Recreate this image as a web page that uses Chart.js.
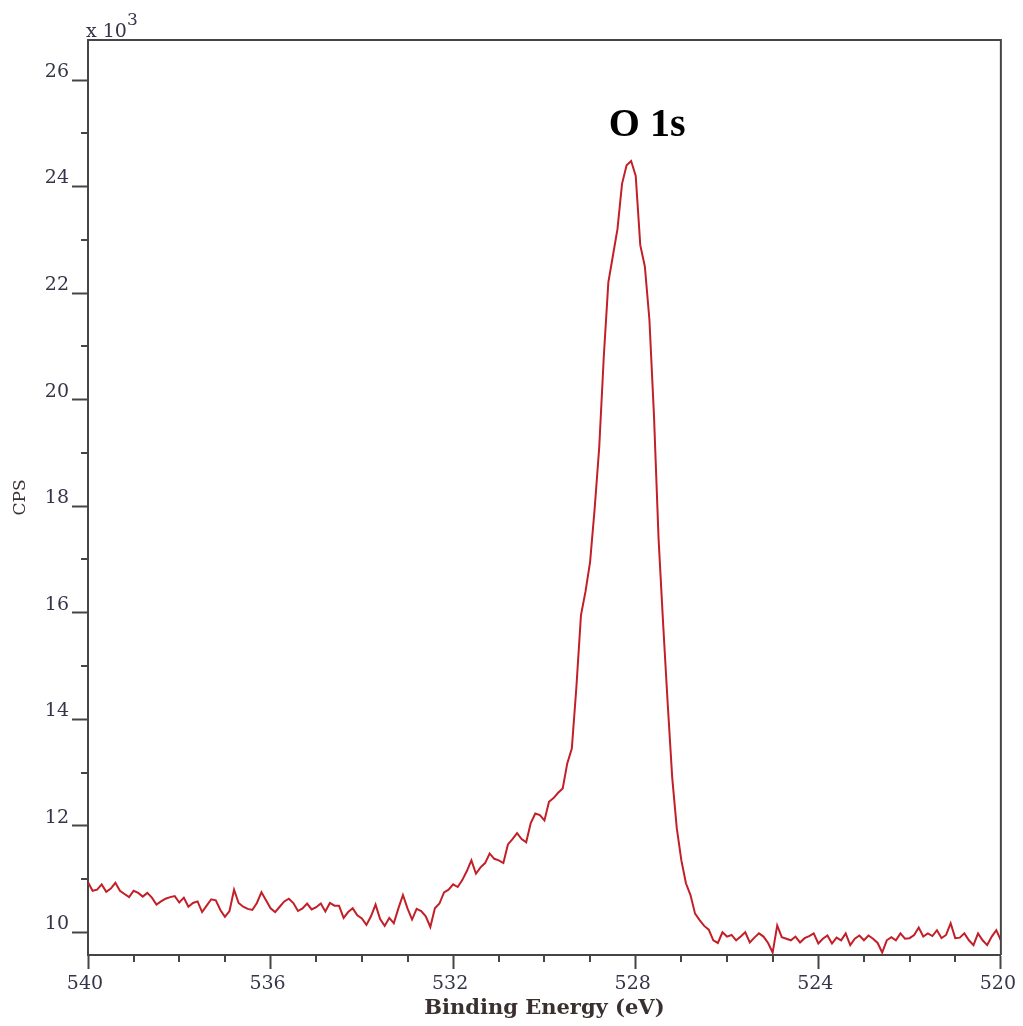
<!DOCTYPE html>
<html>
<head>
<meta charset="utf-8">
<script src="https://cdn.jsdelivr.net/npm/chart.js@4.4.1/dist/chart.umd.min.js"></script>
<style>
  html, body { margin: 0; padding: 0; background: #ffffff; }
  #wrap { width: 1023px; height: 1026px; }
</style>
</head>
<body>
<div id="wrap"><canvas id="c" width="1023" height="1026"></canvas></div>
<script>
// ---- Data (CPS in units of 10^3), sampled every 0.1 eV from 540 eV down to 520 eV ----
const energyStart = 540;
const energyStep = 0.1;
const cps = [
  10.94, 10.78, 10.80, 10.90, 10.76, 10.82, 10.93, 10.78, 10.72, 10.66,
  10.78, 10.74, 10.67, 10.74, 10.65, 10.52, 10.58, 10.63, 10.66, 10.68,
  10.56, 10.65, 10.48, 10.55, 10.58, 10.38, 10.50, 10.62, 10.60, 10.42,
  10.29, 10.40, 10.80, 10.55, 10.48, 10.44, 10.42, 10.55, 10.75, 10.60,
  10.45, 10.38, 10.48, 10.58, 10.63, 10.55, 10.40, 10.45, 10.54, 10.43,
  10.47, 10.54, 10.39, 10.55, 10.50, 10.50, 10.27, 10.38, 10.45, 10.32,
  10.26, 10.14, 10.30, 10.52, 10.25, 10.12, 10.27, 10.17, 10.45, 10.70,
  10.45, 10.24, 10.44, 10.40, 10.30, 10.10, 10.45, 10.54, 10.75, 10.80,
  10.90, 10.85, 10.98, 11.15, 11.35, 11.10, 11.22, 11.30, 11.48, 11.38,
  11.35, 11.30, 11.65, 11.75, 11.86, 11.75, 11.69, 12.05, 12.23, 12.20,
  12.10, 12.45, 12.52, 12.62, 12.70, 13.17, 13.45, 14.60, 15.95, 16.40,
  16.95, 17.95, 19.10, 20.80, 22.20, 22.70, 23.20, 24.05, 24.40, 24.48,
  24.20, 22.90, 22.50, 21.50, 19.70, 17.40, 15.80, 14.30, 12.90, 11.95,
  11.35, 10.92, 10.70, 10.35, 10.23, 10.12, 10.05, 9.85, 9.80, 10.00,
  9.92, 9.95, 9.85, 9.92, 10.00, 9.81, 9.90, 9.98, 9.92, 9.80,
  9.62, 10.13, 9.91, 9.88, 9.85, 9.92, 9.81, 9.89, 9.93, 9.98,
  9.79, 9.88, 9.94, 9.79, 9.90, 9.85, 9.98, 9.76, 9.88, 9.94,
  9.85, 9.94, 9.88, 9.80, 9.62, 9.85, 9.91, 9.85, 9.98, 9.88,
  9.89, 9.95, 10.09, 9.92, 9.98, 9.93, 10.04, 9.89, 9.95, 10.17,
  9.89, 9.90, 9.98, 9.85, 9.76, 9.98, 9.85, 9.76, 9.92, 10.04, 9.85
];
const energies = cps.map((_, i) => +(energyStart - i * energyStep).toFixed(2));

// axis ranges and ticks
const xRange = [520, 540];
const xMajorStep = 4;
const xMinorStep = 1;
const yRange = [9.574, 26.751];
const yMajorStep = 2;
const yMinorStep = 1;

// labels
const xTitle = 'Binding Energy (eV)';
const yTitle = 'CPS';
const multiplierText = 'x 10';
const multiplierExp = '3';
const peakLabel = 'O 1s';
const peakLabelAt = [527.75, 25.15]; // energy, value (x10^3)

// ---- styles ----
const axisColor = '#454545';
const tickTextColor = '#34344a';
const titleColor = '#3a3030';
const lineColor = '#c21f28';
const tickFont = { family: 'DejaVu Serif', size: 19 };

const isInt = v => Math.abs(v - Math.round(v)) < 1e-6;

const decor = {
  id: 'decor',
  afterDraw(chart) {
    const { ctx, chartArea: a, scales } = chart;
    const x = scales.x, y = scales.y;
    ctx.save();
    ctx.strokeStyle = axisColor;
    ctx.lineWidth = 2;
    ctx.beginPath();
    ctx.moveTo(a.left, a.top);
    ctx.lineTo(a.right, a.top);
    ctx.lineTo(a.right, a.bottom);
    // minor ticks
    x.ticks.forEach(t => {
      if (Math.round(t.value) % xMajorStep !== 0) {
        const px = Math.round(x.getPixelForValue(t.value));
        ctx.moveTo(px, a.bottom);
        ctx.lineTo(px, a.bottom + 7);
      }
    });
    y.ticks.forEach(t => {
      if (Math.round(t.value) % yMajorStep !== 0) {
        const py = Math.round(y.getPixelForValue(t.value));
        ctx.moveTo(a.left, py);
        ctx.lineTo(a.left - 7, py);
      }
    });
    ctx.stroke();

    // multiplier text
    ctx.fillStyle = tickTextColor;
    ctx.font = '19px "DejaVu Serif"';
    ctx.textAlign = 'left';
    ctx.textBaseline = 'alphabetic';
    ctx.fillText(multiplierText, a.left - 2, a.top - 3);
    const w = ctx.measureText(multiplierText).width;
    ctx.font = '17px "DejaVu Serif"';
    ctx.fillText(multiplierExp, a.left - 2 + w, a.top - 15);

    // peak label
    ctx.fillStyle = '#000000';
    ctx.font = 'bold 40px "Liberation Serif"';
    ctx.textAlign = 'center';
    ctx.textBaseline = 'middle';
    ctx.fillText(peakLabel, x.getPixelForValue(peakLabelAt[0]), y.getPixelForValue(peakLabelAt[1]));
    ctx.restore();
  }
};

new Chart(document.getElementById('c'), {
  type: 'line',
  data: {
    datasets: [{
      data: energies.map((e, i) => ({ x: e, y: cps[i] })),
      borderColor: lineColor,
      borderWidth: 2,
      pointRadius: 0,
      tension: 0,
      fill: false
    }]
  },
  options: {
    responsive: false,
    animation: false,
    layout: { padding: { top: 40, right: 20, left: 0, bottom: 0 } },
    plugins: { legend: { display: false }, tooltip: { enabled: false } },
    scales: {
      x: {
        type: 'linear',
        reverse: true,
        min: xRange[0],
        max: xRange[1],
        afterFit: s => { s.height = 71; },
        afterBuildTicks: s => { s.ticks = s.ticks.filter(t => isInt(t.value)); },
        ticks: {
          stepSize: xMinorStep,
          autoSkip: false,
          maxRotation: 0,
          padding: 4,
          labelOffset: -3,
          color: tickTextColor,
          font: tickFont,
          callback: v => (Math.round(v) % xMajorStep === 0 ? String(Math.round(v)) : '')
        },
        grid: {
          drawOnChartArea: false,
          tickLength: 14,
          tickWidth: 2,
          tickColor: c => (c.tick && Math.round(c.tick.value) % xMajorStep === 0 ? axisColor : 'rgba(0,0,0,0)')
        },
        border: { display: true, color: axisColor, width: 2 },
        title: {
          display: true,
          text: xTitle,
          color: titleColor,
          font: { family: 'DejaVu Serif', size: 21, weight: 'bold' },
          padding: { top: 0, bottom: 5 }
        }
      },
      y: {
        type: 'linear',
        min: yRange[0],
        max: yRange[1],
        afterFit: s => { s.width = 88; },
        afterBuildTicks: s => { s.ticks = s.ticks.filter(t => isInt(t.value)); },
        ticks: {
          stepSize: yMinorStep,
          autoSkip: false,
          padding: 3,
          labelOffset: -8,
          color: tickTextColor,
          font: tickFont,
          callback: v => (Math.round(v) % yMajorStep === 0 ? String(Math.round(v)) : '')
        },
        grid: {
          drawOnChartArea: false,
          tickLength: 16,
          tickWidth: 2,
          tickColor: c => (c.tick && Math.round(c.tick.value) % yMajorStep === 0 ? axisColor : 'rgba(0,0,0,0)')
        },
        border: { display: true, color: axisColor, width: 2 },
        title: {
          display: true,
          text: yTitle,
          color: titleColor,
          font: { family: 'DejaVu Serif', size: 17 },
          padding: { top: 10, bottom: 0 }
        }
      }
    }
  },
  plugins: [decor]
});
</script>
</body>
</html>
